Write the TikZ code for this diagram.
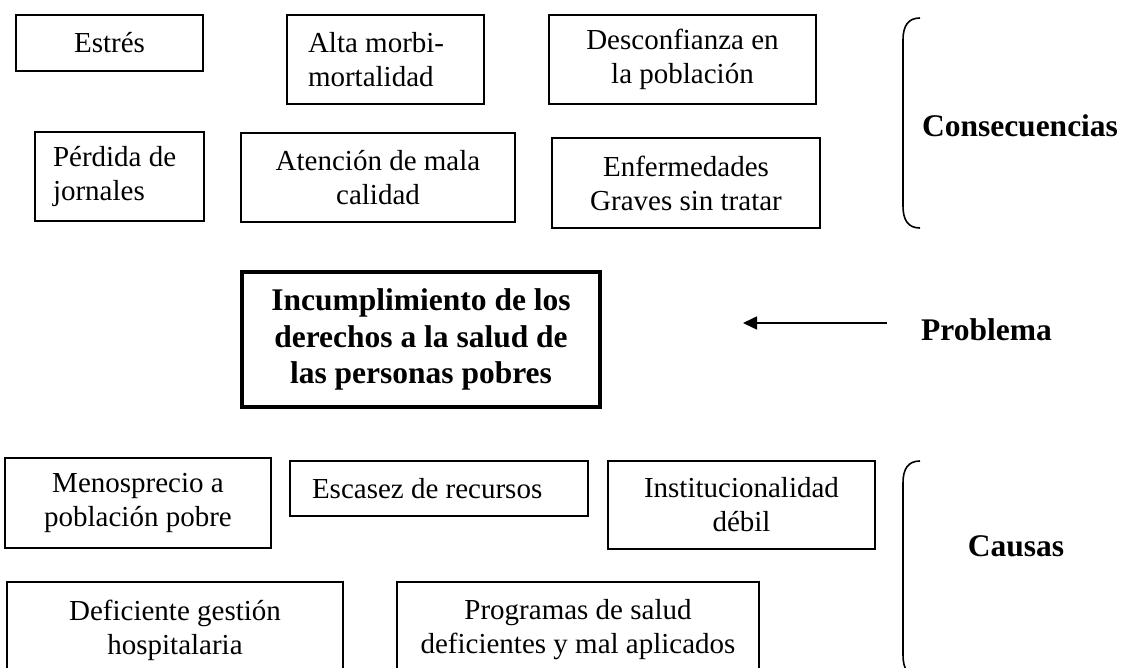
\documentclass[tikz,border=0pt]{standalone}
\usepackage{fontspec}
\setmainfont{Liberation Serif}
\usetikzlibrary{arrows.meta}
\newcommand\regsize{\fontsize{29}{34}\selectfont}
\newcommand\boldsize{\fontsize{31.5}{36.5}\selectfont\bfseries}
\begin{document}
\begin{tikzpicture}[x=1pt,y=-1pt,
  box/.style={draw, line width=1.3pt, inner sep=0pt, align=center, font=\regsize},
  lbox/.style={box, align=flush left},
  mainbox/.style={draw, line width=3.2pt, inner sep=0pt, align=center, font=\boldsize},
  lab/.style={inner sep=0pt, font=\boldsize},
  bracket/.style={line width=1.6pt},
  arr/.style={line width=1.6pt, -{Triangle[length=14pt,width=13pt]}}]
\clip (0,0) rectangle (1125,668);
\fill[white] (0,0) rectangle (1125,668);
% Consecuencias
\node[box, minimum width=187pt, minimum height=56pt] (estres) at (109.5,43) {Estrés};
\node[lbox, text width=155pt, inner xsep=21pt, minimum height=89pt] (alta) at (385.5,59.5) {Alta morbi-\\mortalidad};
\node[box, minimum width=267pt, minimum height=89pt] (desconf) at (682.5,59.5) {Desconfianza en\\la población};
\node[lbox, text width=133pt, inner xsep=18pt, minimum height=89pt] (perdida) at (119.5,176.5) {Pérdida de\\jornales};
\node[box, minimum width=274pt, minimum height=89pt] (atencion) at (378,177.5) {Atención de mala\\calidad};
\node[box, minimum width=268pt, minimum height=90pt] (enferm) at (686,183) {Enfermedades\\Graves sin tratar};
% Problema
\node[mainbox, minimum width=358pt, minimum height=135pt] (main) at (421,339.5) {Incumplimiento de los\\derechos a la salud de\\las personas pobres};
% Causas
\node[box, minimum width=266pt, minimum height=90pt] (menos) at (138,503) {Menosprecio a\\población pobre};
\node[lbox, text width=254pt, inner xsep=22pt, minimum height=55pt] (escasez) at (439,488.5) {Escasez de recursos};
\node[box, minimum width=267pt, minimum height=88pt] (instit) at (741.5,505) {Institucionalidad\\débil};
\node[box, minimum width=336pt, minimum height=96pt] (defic) at (175,630) {Deficiente gestión\\hospitalaria};
\node[box, minimum width=362pt, minimum height=96pt] (program) at (578,630) {Programas de salud\\deficientes y mal aplicados};
% labels
\node[lab] (consec) at (1020,126) {Consecuencias};
\node[lab] (problema) at (986.5,330) {Problema};
\node[lab] (causas) at (1016,546) {Causas};
% arrow
\coordinate (arrtail) at (887,323);
\coordinate (arrtip) at (743,323);
\draw[arr] (arrtail) -- (arrtip);
% brackets
\draw[bracket] (920,18) .. controls (908,18) and (903,26) .. (903,40) -- (903,206) .. controls (903,220) and (908,228) .. (920,228);
\draw[bracket] (920,461) .. controls (908,461) and (903,469) .. (903,483) -- (903,655) .. controls (903,669) and (908,677) .. (920,677);
\end{tikzpicture}
\end{document}
